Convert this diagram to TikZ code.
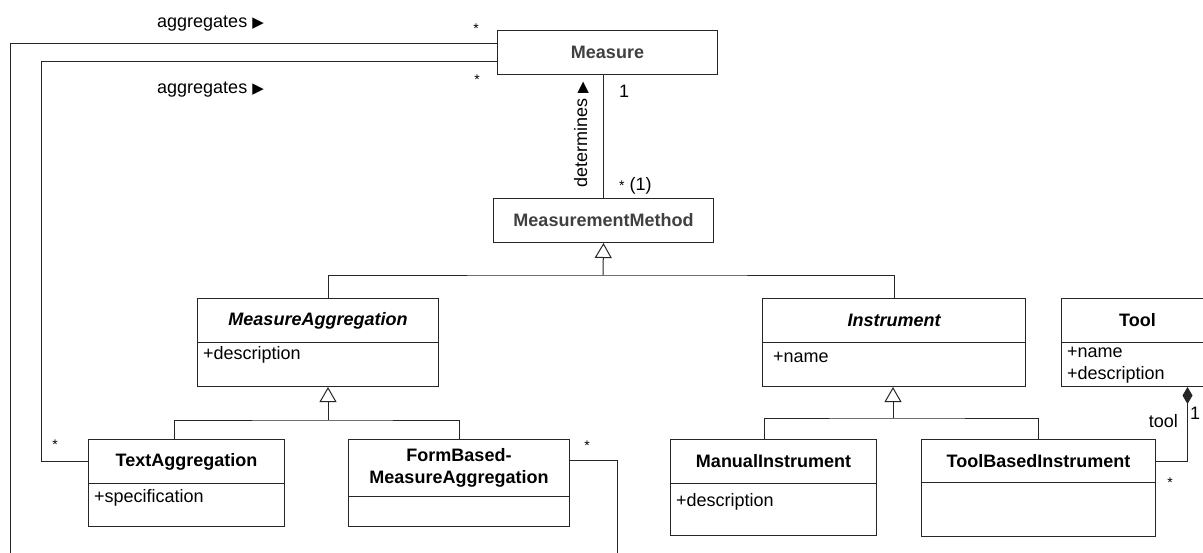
\documentclass[tikz,border=0pt]{standalone}
\usepackage{fontspec}
\setmainfont{Liberation Sans}
\newfontfamily\symfont{DejaVu Sans}
\usetikzlibrary{arrows.meta}
\newcommand{\rtri}{{\symfont\fontsize{15}{15}\selectfont ▶}}
\newcommand{\umlstar}{{\fontsize{14}{14}\selectfont *}}

\begin{document}
\begin{tikzpicture}[x=1pt,y=-1pt,font=\fontsize{18}{22}\selectfont]
  \tikzstyle{umlbox}=[draw=black!85, line width=1pt, inner sep=0pt, anchor=north west]
  \tikzstyle{umltitle}=[umlbox, minimum height=44pt, font=\fontsize{18}{22}\selectfont\bfseries]
  \tikzstyle{umlabstract}=[umltitle, font=\fontsize{18}{22}\selectfont\bfseries\itshape]
  \tikzstyle{umlattr}=[anchor=west, inner sep=0pt]
  \tikzstyle{assoc}=[draw=black!85, line width=1pt]
  \tikzstyle{inh}=[assoc, -{Triangle[open, length=15pt, width=17pt]}]
  \tikzstyle{compo}=[assoc, -{Diamond[length=17pt, width=10pt]}]
  \tikzstyle{lbl}=[inner sep=0pt, anchor=base west]
  \clip (0,0) rectangle (1203,552);
  \fill[white] (0,0) rectangle (1203,552);

  \node[umltitle, minimum width=220pt, text=black!75] (measure) at (497,30) {Measure};
  \node[umltitle, minimum width=220pt, text=black!75] (mm) at (493,198) {MeasurementMethod};

  \node[umlabstract, minimum width=241pt] (magg) at (197,298) {MeasureAggregation};
  \node[umlbox, minimum width=241pt, minimum height=44pt] (magg-a) at (197,342) {};
  \node[umlattr] (magg-t) at ([shift={(6pt,-13pt)}]magg-a.north west) {+description};

  \node[umlabstract, minimum width=263pt] (ins) at (762,298) {Instrument};
  \node[umlbox, minimum width=263pt, minimum height=44pt] (ins-a) at (762,342) {};
  \node[umlattr] (ins-t) at ([shift={(11pt,-15pt)}]ins-a.north west) {+name};

  \node[umltitle, minimum width=152pt] (tool) at (1061,298) {Tool};
  \node[umlbox, minimum width=152pt, minimum height=44pt] (tool-a) at (1061,342) {};
  \node[umlattr] (tool-t1) at ([shift={(6pt,-10pt)}]tool-a.north west) {+name};
  \node[umlattr] (tool-t2) at ([shift={(6pt,-33pt)}]tool-a.north west) {+description};

  \node[umltitle, minimum width=196pt] (ta) at (88,439) {TextAggregation};
  \node[umlbox, minimum width=196pt, minimum height=43pt] (ta-a) at (88,483) {};
  \node[umlattr] (ta-t) at ([shift={(6pt,-15pt)}]ta-a.north west) {+specification};

  \node[umltitle, minimum width=221pt, minimum height=57pt, align=center] (fbm) at (348,439) {FormBased-\\MeasureAggregation};
  \node[umlbox, minimum width=221pt, minimum height=30pt] (fbm-a) at (348,496) {};

  \node[umltitle, minimum width=206pt] (mi) at (670,439) {ManualInstrument};
  \node[umlbox, minimum width=206pt, minimum height=52pt] (mi-a) at (670,483) {};
  \node[umlattr] (mi-t) at ([shift={(6pt,-19pt)}]mi-a.north west) {+description};

  \node[umltitle, minimum width=234pt, minimum height=43pt] (tbi) at (921,439) {ToolBasedInstrument};
  \node[umlbox, minimum width=234pt, minimum height=54pt] (tbi-a) at (921,482) {};

  \coordinate (mm-bus) at (603,275);
  \coordinate (magg-bus) at (328,420);
  \coordinate (ins-bus) at (893,418);

  \draw[assoc] (mm.north) -- (mm.north |- measure.south);
  \draw[assoc] ([xshift=10.5pt]magg.north) |- (mm-bus) -| (ins.north);
  \draw[inh] (mm-bus) -- (mm.south);
  \draw[assoc] ([xshift=-12pt]ta.north) |- (magg-bus) -| (fbm.north);
  \draw[inh] (magg-bus) -- (magg-bus |- magg-a.south);
  \draw[assoc] ([xshift=-9pt]mi.north) |- (ins-bus) -| (tbi.north);
  \draw[inh] (ins-bus) -- (ins-bus |- ins-a.south);
  \draw[compo] (tbi.east) -| ([xshift=50pt]tool-a.south);

  \draw[assoc] ([yshift=9pt]measure.west) -| (10,575) -| ([shift={(47pt,7.5pt)}]fbm.east) -- ([yshift=7.5pt]fbm.east);
  \draw[assoc] ([yshift=-9pt]measure.west) -| ([xshift=-47pt]ta.west) -- (ta.west);

  \node[lbl] (agg1) at (157,27) {aggregates \rtri};
  \node[lbl] (agg2) at (157,93) {aggregates \rtri};
  \node[lbl, anchor=base] (s1) at (476,33) {\umlstar};
  \node[lbl, anchor=base] (s2) at (477,84) {\umlstar};
  \node[lbl, anchor=base] (s3) at (55,449) {\umlstar};
  \node[lbl, anchor=base] (s4) at (587,450) {\umlstar};
  \node[lbl, anchor=base] (s5) at (1170,487) {\umlstar};
  \node[lbl] (m1) at (619,97) {1};
  \node[lbl] (mm1) at (619,190) {\umlstar\ (1)};
  \node[lbl, rotate=90] (det) at (587,188) {determines \rtri};
  \node[lbl, anchor=base east] (toolname) at (1178,427) {tool};
  \node[lbl] (t1) at (1190,419) {1};
\end{tikzpicture}
\end{document}
